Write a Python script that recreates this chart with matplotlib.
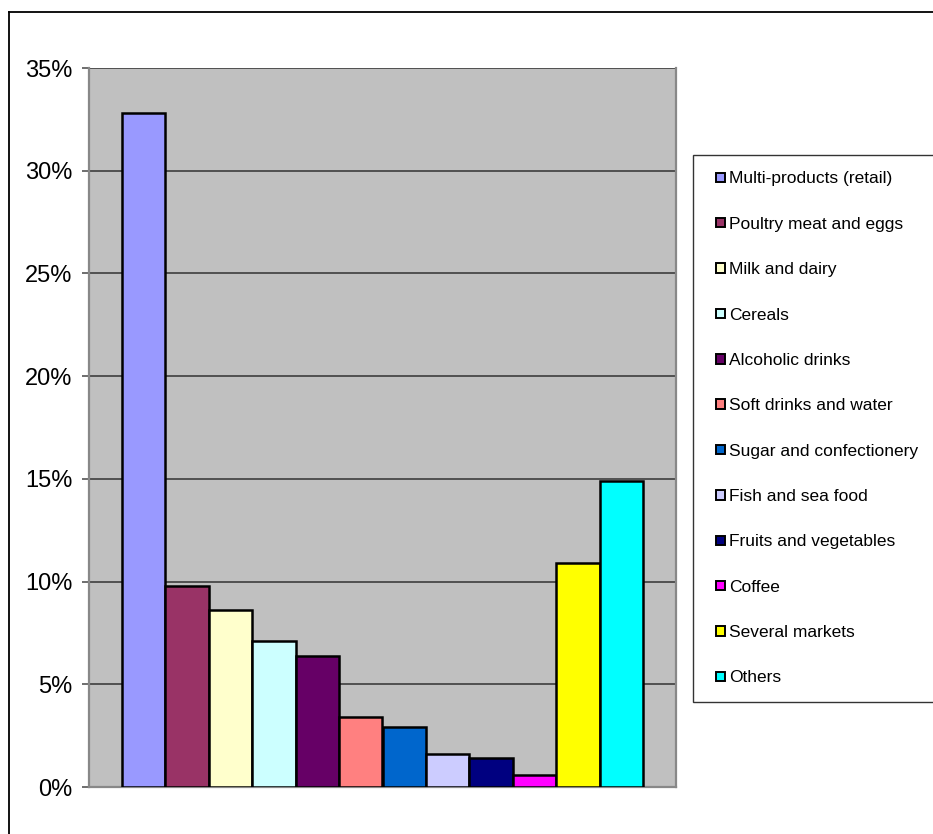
import numpy as np
import matplotlib
matplotlib.use("Agg")
import matplotlib.pyplot as plt
from matplotlib.patches import Rectangle, Patch
from matplotlib.legend_handler import HandlerPatch
from matplotlib.lines import Line2D
from matplotlib.ticker import PercentFormatter

# data
categories = ["Multi-products (retail)", "Poultry meat and eggs", "Milk and dairy",
              "Cereals", "Alcoholic drinks", "Soft drinks and water",
              "Sugar and confectionery", "Fish and sea food", "Fruits and vegetables",
              "Coffee", "Several markets", "Others"]
shares = [32.8, 9.8, 8.6, 7.1, 6.4, 3.4, 2.9, 1.6, 1.4, 0.6, 10.9, 14.9]
colors = ["#9999FF", "#993366", "#FFFFCC", "#CCFFFF", "#660066", "#FF8080",
          "#0066CC", "#CCCCFF", "#000080", "#FF00FF", "#FFFF00", "#00FFFF"]
yticks = [0, 5, 10, 15, 20, 25, 30, 35]

plt.rcParams["font.family"] = ["Liberation Sans", "DejaVu Sans"]

W, H = 933, 834
fig = plt.figure(figsize=(W / 100, H / 100), dpi=100)
ax = fig.add_axes([89 / W, 1 - 787 / H, (676 - 89) / W, (787 - 68) / H])
ax.set_facecolor("#C0C0C0")

x = np.arange(len(shares))
for i, (v, c, lab) in enumerate(zip(shares, colors, categories)):
    ax.bar(x[i], v / 100, width=1.0, color=c, edgecolor="black", linewidth=1.8,
           label=lab, zorder=3)

ax.set_xlim(-1.25, len(shares) + 0.25)
ax.set_ylim(0, 0.35)
ax.set_yticks([t / 100 for t in yticks])
ax.yaxis.set_major_formatter(PercentFormatter(1.0, decimals=0))
ax.set_xticks([])
ax.yaxis.grid(True, color="#333333", linewidth=1.1)
ax.set_axisbelow(True)
ax.tick_params(axis="y", length=5, width=1.2, color="#555555", pad=7,
               labelsize=17)
for s in ("left", "bottom", "right"):
    ax.spines[s].set_color("#888888")
    ax.spines[s].set_linewidth(1.6)
ax.spines["top"].set_visible(False)

# outer chart frame
fig.add_artist(Line2D([9 / W, 1], [1 - 12 / H, 1 - 12 / H], color="black",
                      lw=1.3, transform=fig.transFigure))
fig.add_artist(Line2D([9 / W, 9 / W], [0, 1 - 12 / H], color="black",
                      lw=1.3, transform=fig.transFigure))


def small_square(legend, orig_handle, xdescent, ydescent, width, height, fontsize):
    s = 6.8
    return Rectangle((-xdescent + width - s, -ydescent + (height - s) / 2), s, s)


handles = [Patch(facecolor=c, edgecolor="black", linewidth=1.4) for c in colors]
leg = fig.legend(handles, categories, loc="upper left",
                 bbox_to_anchor=(693 / W, 1 - 701 / H, 300 / W, 546 / H),
                 bbox_transform=fig.transFigure, mode="expand",
                 fontsize=12.5, frameon=True, fancybox=False, shadow=False,
                 borderpad=0.94, labelspacing=1.74, handlelength=0.9,
                 handletextpad=0.22, borderaxespad=0,
                 handler_map={Patch: HandlerPatch(patch_func=small_square)})
leg.get_frame().set_edgecolor("black")
leg.get_frame().set_linewidth(1.0)

fig.savefig("out.png", dpi=100)
